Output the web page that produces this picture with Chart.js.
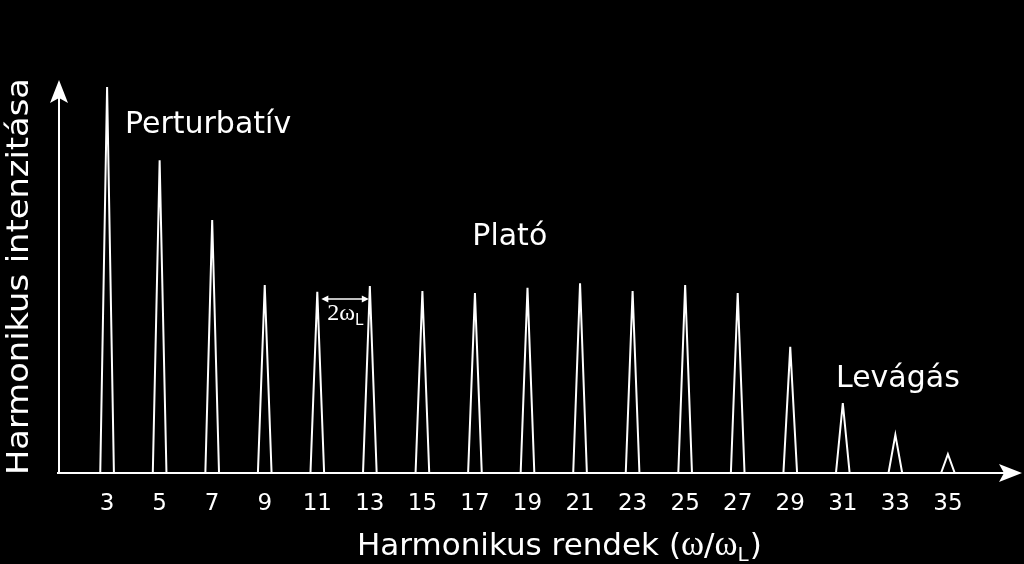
<!DOCTYPE html>
<html>
<head>
<meta charset="utf-8">
<script src="https://cdn.jsdelivr.net/npm/chart.js@4/dist/chart.umd.min.js"></script>
<style>
  html, body { margin: 0; padding: 0; background: #000; }
  #wrap { width: 1024px; height: 564px; }
</style>
</head>
<body>
<div id="wrap"><canvas id="c" width="1024" height="564"></canvas></div>
<script>
// ---- data ----
const harmonics = [3, 5, 7, 9, 11, 13, 15, 17, 19, 21, 23, 25, 27, 29, 31, 33, 35];
const intensities = [98.2, 79.6, 64.4, 47.8, 46.1, 47.6, 46.3, 45.8, 47.1, 48.3, 46.3, 47.8, 45.8, 32.1, 17.8, 9.7, 4.8];
const tickLabels = ['3','5','7','9','11','13','15','17','19','21','23','25','27','29','31','33','35'];
const regionLabels = ['Perturbatív', 'Plató', 'Levágás'];
const regionAnchors = [[3.68, 86.5], [16.9, 58.0], [30.74, 21.9]]; // [harmonic, intensity] of text start/baseline
const xTitle = 'Harmonikus rendek';
const yTitle = 'Harmonikus intenzitása';
const spacingFrom = 11, spacingTo = 13, spacingLevel = 44.3;

const HALF = 0.26;
const SANS = '"DejaVu Sans", Verdana, sans-serif';
const SERIF = '"Liberation Serif", "DejaVu Serif", serif';

// build spike outlines
const pts = [];
harmonics.forEach((h, i) => {
  pts.push({x: h - HALF, y: 0});
  pts.push({x: h, y: intensities[i]});
  pts.push({x: h + HALF, y: 0});
  pts.push({x: h + HALF, y: null});
});

const decor = {
  id: 'decor',
  beforeDraw(chart) {
    const ctx = chart.ctx;
    ctx.save();
    ctx.fillStyle = '#000';
    ctx.fillRect(0, 0, chart.width, chart.height);
    ctx.restore();
  },
  afterDatasetsDraw(chart) {
    const ctx = chart.ctx;
    const xs = chart.scales.x, ys = chart.scales.y;
    const ca = chart.chartArea;
    ctx.save();
    ctx.strokeStyle = '#fff';
    ctx.fillStyle = '#fff';
    ctx.lineWidth = 2;
    const x0 = xs.getPixelForValue(xs.min);
    const y0 = ys.getPixelForValue(0);
    // x axis with arrow
    ctx.beginPath();
    ctx.moveTo(x0 - 2, y0);
    ctx.lineTo(ca.right - 18, y0);
    ctx.stroke();
    ctx.beginPath();
    ctx.moveTo(ca.right, y0);
    ctx.lineTo(ca.right - 23, y0 - 9);
    ctx.lineTo(ca.right - 18, y0);
    ctx.lineTo(ca.right - 23, y0 + 9);
    ctx.closePath();
    ctx.fill();
    // y axis with arrow
    ctx.beginPath();
    ctx.moveTo(x0, y0);
    ctx.lineTo(x0, ca.top + 18);
    ctx.stroke();
    ctx.beginPath();
    ctx.moveTo(x0, ca.top);
    ctx.lineTo(x0 - 9, ca.top + 23);
    ctx.lineTo(x0, ca.top + 18);
    ctx.lineTo(x0 + 9, ca.top + 23);
    ctx.closePath();
    ctx.fill();

    // region labels
    ctx.font = '30px ' + SANS;
    ctx.textBaseline = 'alphabetic';
    ctx.textAlign = 'left';
    regionLabels.forEach((t, i) => {
      ctx.fillText(t, xs.getPixelForValue(regionAnchors[i][0]), ys.getPixelForValue(regionAnchors[i][1]));
    });

    // 2ωL spacing arrow
    const ax1 = xs.getPixelForValue(spacingFrom) + 4;
    const ax2 = xs.getPixelForValue(spacingTo) - 1;
    const ay = ys.getPixelForValue(spacingLevel);
    ctx.lineWidth = 1.5;
    ctx.beginPath();
    ctx.moveTo(ax1 + 5, ay); ctx.lineTo(ax2 - 5, ay); ctx.stroke();
    ctx.beginPath();
    ctx.moveTo(ax1, ay); ctx.lineTo(ax1 + 7, ay - 3.5); ctx.lineTo(ax1 + 7, ay + 3.5); ctx.closePath(); ctx.fill();
    ctx.beginPath();
    ctx.moveTo(ax2, ay); ctx.lineTo(ax2 - 7, ay - 3.5); ctx.lineTo(ax2 - 7, ay + 3.5); ctx.closePath(); ctx.fill();
    let tx = ax1 + 6;
    const tby = ay + 21;
    ctx.font = '24px ' + SERIF;
    ctx.fillText('2\u03C9', tx, tby);
    tx += ctx.measureText('2\u03C9').width;
    ctx.font = '15px ' + SANS;
    ctx.fillText('L', tx, tby + 5);

    // x title with ω
    let px = 357;
    const by = 555;
    ctx.font = '31px ' + SANS;
    const p1 = xTitle + ' (';
    ctx.fillText(p1, px, by); px += ctx.measureText(p1).width;
    ctx.font = '35px ' + SERIF;
    ctx.fillText('\u03C9', px, by); px += ctx.measureText('\u03C9').width;
    ctx.font = '31px ' + SANS;
    ctx.fillText('/', px, by); px += ctx.measureText('/').width;
    ctx.font = '35px ' + SERIF;
    ctx.fillText('\u03C9', px, by); px += ctx.measureText('\u03C9').width;
    ctx.font = '20px ' + SANS;
    ctx.fillText('L', px, by + 6); px += ctx.measureText('L').width + 1;
    ctx.font = '31px ' + SANS;
    ctx.fillText(')', px, by);

    // y title rotated, stretched to span
    ctx.save();
    ctx.font = '31px ' + SANS;
    const w = ctx.measureText(yTitle).width;
    const target = 397;
    ctx.translate(28, 475);
    ctx.rotate(-Math.PI / 2);
    ctx.scale(target / w, 1);
    ctx.fillText(yTitle, 0, 0);
    ctx.restore();

    ctx.restore();
  }
};

new Chart(document.getElementById('c'), {
  type: 'line',
  data: {
    datasets: [{
      data: pts,
      borderColor: '#ffffff',
      borderWidth: 2,
      pointRadius: 0,
      tension: 0,
      fill: false,
      spanGaps: false
    }]
  },
  options: {
    responsive: false,
    animation: false,
    devicePixelRatio: 1,
    layout: { padding: { left: 59, right: 2, top: 80, bottom: 0 } },
    plugins: { legend: { display: false }, tooltip: { enabled: false } },
    scales: {
      x: {
        type: 'linear',
        min: 1.17,
        max: 37.82,
        grid: { display: false, drawTicks: false },
        border: { display: false },
        afterBuildTicks(scale) { scale.ticks = harmonics.map(v => ({ value: v })); },
        afterFit(scale) { scale.height = 91; },
        ticks: {
          color: '#ffffff',
          padding: 17,
          maxRotation: 0,
          autoSkip: false,
          font: { family: SANS, size: 23 },
          callback: (v) => tickLabels[harmonics.indexOf(v)] ?? ''
        }
      },
      y: {
        display: false,
        min: 0,
        max: 100
      }
    }
  },
  plugins: [decor]
});
</script>
</body>
</html>
